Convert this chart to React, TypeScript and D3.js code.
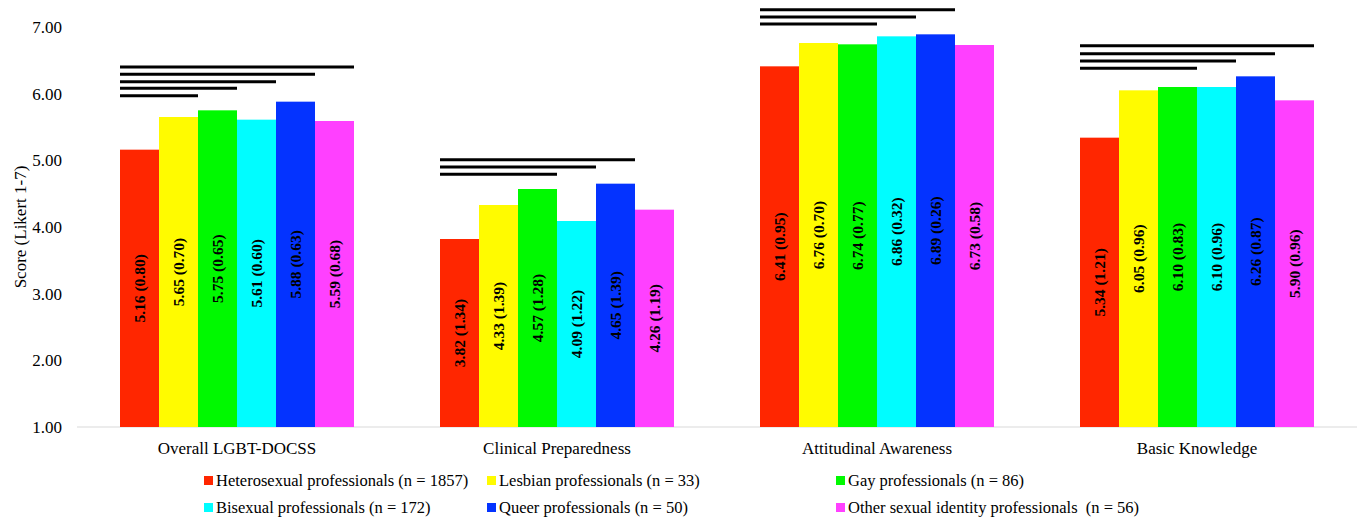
import React from "react";
import * as d3 from "d3";

const categories = ["Overall LGBT-DOCSS", "Clinical Preparedness", "Attitudinal Awareness", "Basic Knowledge"];
const seriesNames = [
  "Heterosexual professionals (n = 1857)",
  "Lesbian professionals (n = 33)",
  "Gay professionals (n = 86)",
  "Bisexual professionals (n = 172)",
  "Queer professionals (n = 50)",
  "Other sexual identity professionals  (n = 56)",
];
const seriesColors = ["#FF2600", "#FFFB00", "#00F900", "#00FDFF", "#0433FF", "#FF40FF"];
// means per series, per category
const means = [
  [5.16, 3.82, 6.41, 5.34],
  [5.65, 4.33, 6.76, 6.05],
  [5.75, 4.57, 6.74, 6.10],
  [5.61, 4.09, 6.86, 6.10],
  [5.88, 4.65, 6.89, 6.26],
  [5.59, 4.26, 6.73, 5.90],
];
const sds = [
  ["0.80", "1.34", "0.95", "1.21"],
  ["0.70", "1.39", "0.70", "0.96"],
  ["0.65", "1.28", "0.77", "0.83"],
  ["0.60", "1.22", "0.32", "0.96"],
  ["0.63", "1.39", "0.26", "0.87"],
  ["0.68", "1.19", "0.58", "0.96"],
];
const yTicks = [1, 2, 3, 4, 5, 6, 7];
// significance brackets: [category index, from series, to series, level]
const sigLines: [number, number, number, number][] = [
  [0, 0, 1, 5.97], [0, 0, 2, 6.08], [0, 0, 3, 6.18], [0, 0, 4, 6.29], [0, 0, 5, 6.40],
  [1, 0, 2, 4.79], [1, 0, 3, 4.90], [1, 0, 4, 5.01],
  [2, 0, 2, 7.045], [2, 0, 3, 7.15], [2, 0, 4, 7.26],
  [3, 0, 2, 6.38], [3, 0, 3, 6.49], [3, 0, 4, 6.60], [3, 0, 5, 6.72],
];

const W = 1362, H = 521;
const FONT = "'Liberation Serif', 'Times New Roman', serif";

export default function App() {
  const y = d3.scaleLinear().domain([1, 7]).range([427, 27]);
  const x0 = d3.scaleBand<string>().domain(categories).range([77, 1357]).padding(0);
  const x1 = d3.scaleBand<number>().domain(d3.range(6)).range([43, x0.bandwidth() - 43]).padding(0);

  const legendCols = [204, 487, 836];
  const legendRows = [476, 503];

  return (
    <svg width={W} height={H} style={{ position: "absolute", left: 0, top: 0, background: "#fff" }} fontFamily={FONT}>
      {yTicks.map((t) => (
        <text key={t} x={62} y={y(t)} dy="0.35em" textAnchor="end" fontSize={17} fill="#000">
          {d3.format(".2f")(t)}
        </text>
      ))}
      <text transform={`translate(26,${(y(1) + y(7)) / 2}) rotate(-90)`} textAnchor="middle" fontSize={17} fill="#000">
        Score (Likert 1-7)
      </text>
      <line x1={77} x2={1357} y1={y(1)} y2={y(1)} stroke="#d9d9d9" strokeWidth={1} />
      {categories.map((c, ci) => (
        <g key={c} transform={`translate(${x0(c)},0)`}>
          {means.map((vals, si) => {
            const bx = x1(si)!;
            const bw = x1.bandwidth();
            const top = y(vals[ci]);
            const cy = (top + y(1)) / 2;
            const cx = bx + bw / 2;
            return (
              <g key={si}>
                <rect x={bx} y={top} width={bw} height={y(1) - top} fill={seriesColors[si]} />
                <text
                  transform={`translate(${cx + 5.5},${cy}) rotate(-90)`}
                  textAnchor="middle"
                  fontSize={15.5}
                  fontWeight="bold"
                  fill="#000"
                >
                  {`${d3.format(".2f")(vals[ci])} (${sds[si][ci]})`}
                </text>
              </g>
            );
          })}
          <text x={x0.bandwidth() / 2} y={454} textAnchor="middle" fontSize={17} fill="#000">
            {c}
          </text>
        </g>
      ))}
      {sigLines.map(([ci, from, to, lvl], i) => {
        const gx = x0(categories[ci])!;
        return (
          <line
            key={i}
            x1={gx + x1(from)!}
            x2={gx + x1(to)! + x1.bandwidth()}
            y1={y(lvl)}
            y2={y(lvl)}
            stroke="#000"
            strokeWidth={3}
          />
        );
      })}
      {seriesNames.map((name, i) => {
        const col = i % 3;
        const row = Math.floor(i / 3);
        const lx = legendCols[col];
        const ly = legendRows[row];
        return (
          <g key={name}>
            <rect x={lx} y={ly} width={9} height={9} fill={seriesColors[i]} />
            <text x={lx + 12} y={ly + 10} fontSize={16.5} fill="#000" style={{ whiteSpace: "pre" }}>
              {name}
            </text>
          </g>
        );
      })}
    </svg>
  );
}
